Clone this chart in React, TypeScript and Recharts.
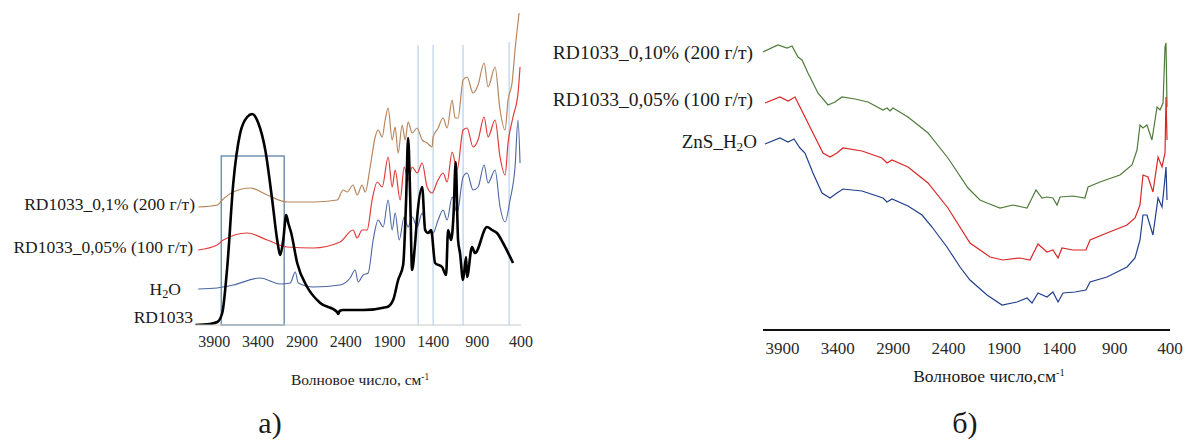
import React from 'react';
import { LineChart, Line, XAxis, YAxis, ReferenceLine, ReferenceArea } from 'recharts';

// wavenumber ticks, same on both panels
const waveTicks = [3900, 3400, 2900, 2400, 1900, 1400, 900, 400];

// panel a) – marker lines and the boxed OH region
const markerLines = [1574, 1403, 1061, 536];
const boxX = [3820, 3102];
const boxTop = 169;

// panel a) spectra, [wavenumber, relative intensity]
const rd1033: number[][] = [
  [4117, 0], [3950, 1], [3866, 3], [3809, 12], [3752, 58], [3683, 142], [3604, 192], [3524, 208],
  [3467, 211], [3398, 202], [3318, 175], [3239, 125], [3182, 85], [3148, 70], [3113, 85], [3079, 110],
  [3056, 102], [3022, 92], [2954, 62], [2840, 38], [2691, 22], [2498, 13], [2486, 11], [2470, 14],
  [2430, 15], [2201, 15], [1928, 18], [1859, 25], [1802, 45], [1745, 60], [1711, 125], [1688, 187],
  [1665, 130], [1643, 55], [1610, 80], [1585, 108], [1528, 138], [1494, 95], [1460, 92], [1426, 95],
  [1380, 62], [1300, 58], [1255, 50], [1232, 95], [1198, 85], [1170, 110], [1145, 163], [1118, 85],
  [1096, 72], [1061, 45], [1027, 68], [1016, 48], [959, 78], [925, 72], [788, 98], [731, 95],
  [674, 92], [605, 82], [491, 62],
];
const rd200a: number[][] = [
  [4083, 118], [3866, 120], [3809, 125], [3683, 133], [3490, 137], [3296, 130], [3068, 123], [2771, 123],
  [2498, 125], [2429, 135], [2384, 133], [2316, 140], [2270, 130], [2213, 140], [2178, 133], [2121, 158],
  [2064, 188], [2030, 195], [1984, 188], [1950, 205], [1916, 217], [1870, 185], [1836, 198], [1802, 172],
  [1756, 200], [1722, 185], [1688, 203], [1642, 192], [1585, 197], [1528, 185], [1471, 182], [1414, 178],
  [1403, 188], [1346, 197], [1289, 207], [1243, 197], [1186, 225], [1152, 207], [1118, 207], [1061, 245],
  [1015, 248], [947, 232], [890, 240], [821, 262], [776, 238], [696, 258], [639, 215], [582, 195],
  [548, 225], [502, 242], [468, 275], [422, 312],
];
const rd100a: number[][] = [
  [4083, 75], [3866, 80], [3797, 85], [3524, 92], [3296, 85], [3068, 78], [2771, 77], [2464, 83],
  [2316, 95], [2270, 87], [2213, 95], [2156, 95], [2099, 125], [2041, 143], [1984, 138], [1916, 168],
  [1870, 138], [1836, 155], [1779, 125], [1733, 158], [1688, 145], [1642, 158], [1585, 152], [1528, 162],
  [1471, 138], [1414, 132], [1357, 143], [1289, 152], [1243, 143], [1186, 173], [1129, 155], [1061, 195],
  [1015, 197], [947, 178], [890, 185], [821, 208], [776, 188], [696, 205], [639, 168], [582, 150],
  [548, 182], [491, 208], [434, 232], [411, 258],
];
const waterA: number[][] = [
  [4083, 36], [3866, 37], [3683, 40], [3376, 47], [3148, 41], [3033, 42], [2976, 53], [2942, 42],
  [2771, 38], [2464, 40], [2350, 47], [2293, 55], [2258, 43], [2201, 50], [2144, 52], [2087, 85],
  [2030, 105], [1973, 98], [1916, 125], [1870, 95], [1836, 112], [1790, 85], [1733, 108], [1688, 98],
  [1642, 108], [1585, 98], [1528, 112], [1471, 92], [1403, 92], [1346, 105], [1289, 115], [1243, 105],
  [1186, 128], [1129, 112], [1061, 148], [1015, 152], [947, 135], [890, 138], [821, 160], [776, 142],
  [696, 155], [639, 118], [582, 103], [525, 125], [468, 158], [434, 205], [411, 162],
];

// panel б) spectra
const rd200b: number[][] = [
  [4075, 278], [3940, 285], [3858, 282], [3813, 284], [3759, 273], [3723, 270], [3669, 257], [3579, 237],
  [3488, 225], [3425, 228], [3362, 233], [3244, 231], [3127, 228], [2992, 220], [2955, 222], [2928, 219],
  [2901, 222], [2766, 213], [2585, 197], [2405, 172], [2224, 142], [2116, 130], [2052, 127], [1935, 122],
  [1818, 125], [1736, 123], [1691, 122], [1646, 132], [1610, 140], [1556, 132], [1511, 133], [1457, 132],
  [1420, 125], [1393, 133], [1276, 134], [1168, 132], [1140, 143], [1032, 148], [852, 155], [743, 165],
  [698, 180], [671, 205], [644, 202], [608, 205], [563, 190], [517, 223], [490, 220], [463, 227],
  [445, 283], [436, 287], [427, 223],
];
const rd100b: number[][] = [
  [4057, 227], [3922, 233], [3849, 229], [3786, 233], [3741, 223], [3696, 213], [3624, 197], [3533, 177],
  [3470, 173], [3407, 177], [3353, 182], [3181, 179], [3001, 172], [2955, 167], [2910, 170], [2766, 163],
  [2585, 147], [2405, 122], [2206, 87], [2025, 73], [1908, 70], [1755, 72], [1664, 70], [1619, 80],
  [1592, 86], [1511, 78], [1457, 80], [1411, 72], [1375, 82], [1276, 80], [1159, 80], [1122, 90],
  [969, 97], [788, 105], [716, 112], [671, 125], [644, 155], [599, 153], [554, 138], [508, 173],
  [472, 163], [445, 177], [436, 233], [427, 190],
];
const znsWater: number[][] = [
  [4057, 186], [3922, 192], [3849, 188], [3795, 191], [3741, 182], [3696, 177], [3624, 157], [3542, 137],
  [3470, 132], [3407, 137], [3353, 141], [3181, 139], [2992, 132], [2955, 128], [2910, 131], [2766, 124],
  [2639, 115], [2549, 103], [2414, 83], [2296, 63], [2206, 50], [2052, 35], [1917, 25], [1782, 28],
  [1691, 32], [1646, 27], [1592, 37], [1511, 33], [1457, 38], [1411, 28], [1366, 37], [1258, 38],
  [1159, 40], [1122, 48], [969, 53], [788, 63], [716, 72], [671, 90], [644, 115], [608, 115],
  [554, 95], [508, 132], [472, 123], [454, 142], [436, 163], [427, 130],
];

const serif = '"Liberation Serif", "DejaVu Serif", serif';
const rows = (pts: number[][]) => pts.map(([wn, v]) => ({ wn, v }));

const Label = ({ right, cy, size, children }: any) => (
  <div style={{
    position: 'absolute', left: 0, width: right, top: cy - size * 0.62, lineHeight: `${size * 1.2}px`,
    fontSize: size, textAlign: 'right', whiteSpace: 'nowrap', fontFamily: serif, color: '#1a1a1a',
  }}>{children}</div>
);

const Center = ({ cx, cy, size, children }: any) => (
  <div style={{
    position: 'absolute', left: cx - 200, width: 400, top: cy - size * 0.62, lineHeight: `${size * 1.2}px`,
    fontSize: size, textAlign: 'center', whiteSpace: 'nowrap', fontFamily: serif, color: '#1a1a1a',
  }}>{children}</div>
);

const sub = { fontSize: '0.7em', verticalAlign: '-0.25em' };
const sup = { fontSize: '0.6em', verticalAlign: '0.55em' };

export default function App() {
  return (
    <div style={{ position: 'absolute', left: 0, top: 0, width: 1189, height: 442, background: '#fff', overflow: 'hidden' }}>
      <div style={{ position: 'absolute', left: 0, top: 0 }}>
        <LineChart width={540} height={442} margin={{ top: 5, right: 19, left: 195, bottom: 87 }}>
          <XAxis type="number" dataKey="wn" domain={[400, 4120]} reversed ticks={waveTicks} allowDataOverflow
            height={30} tickLine={false} tickMargin={5} axisLine={{ stroke: '#c8c8c8' }}
            tick={{ fill: '#2a2a2a', fontSize: 16, fontFamily: serif }} interval={0} />
          <YAxis type="number" domain={[0, 320]} hide allowDataOverflow />
          {markerLines.map((wn) => (
            <ReferenceLine key={wn} segment={[{ x: wn, y: 0 }, { x: wn, y: wn < 700 ? 283 : 280 }]}
              stroke="#a9c8e6" strokeWidth={1} />
          ))}
          <ReferenceArea x1={boxX[0]} x2={boxX[1]} y1={0} y2={boxTop} fill="none" fillOpacity={0}
            stroke="#7393b3" strokeWidth={1.5} />
          <Line data={rows(rd200a)} dataKey="v" type="monotoneX" stroke="#b8875e" strokeWidth={1.2} dot={false} isAnimationActive={false} />
          <Line data={rows(rd100a)} dataKey="v" type="monotoneX" stroke="#e03c3c" strokeWidth={1.2} dot={false} isAnimationActive={false} />
          <Line data={rows(waterA)} dataKey="v" type="monotoneX" stroke="#4b66a3" strokeWidth={1.1} dot={false} isAnimationActive={false} />
          <Line data={rows(rd1033)} dataKey="v" type="monotoneX" stroke="#000" strokeWidth={2.6} dot={false} isAnimationActive={false} />
        </LineChart>
      </div>

      <div style={{ position: 'absolute', left: 540, top: 0 }}>
        <LineChart width={649} height={442} margin={{ top: 30, right: 19, left: 223, bottom: 82 }}>
          <XAxis type="number" dataKey="wn" domain={[400, 4075]} reversed ticks={waveTicks} allowDataOverflow
            height={30} tickLine={false} tickMargin={6} axisLine={{ stroke: '#111', strokeWidth: 2 }}
            tick={{ fill: '#2a2a2a', fontSize: 17, fontFamily: serif }} interval={0} />
          <YAxis type="number" domain={[0, 300]} hide allowDataOverflow />
          <Line data={rows(rd200b)} dataKey="v" type="linear" stroke="#4f7b3b" strokeWidth={1.2} dot={false} isAnimationActive={false} />
          <Line data={rows(rd100b)} dataKey="v" type="linear" stroke="#d92626" strokeWidth={1.2} dot={false} isAnimationActive={false} />
          <Line data={rows(znsWater)} dataKey="v" type="linear" stroke="#213f8c" strokeWidth={1.2} dot={false} isAnimationActive={false} />
        </LineChart>
      </div>

      <Label right={195} cy={205} size={17.5}>RD1033_0,1% (200 г/т)</Label>
      <Label right={193} cy={248} size={17.5}>RD1033_0,05% (100 г/т)</Label>
      <Label right={181} cy={290} size={17.5}>H<span style={sub}>2</span>O</Label>
      <Label right={193} cy={318} size={17.5}>RD1033</Label>

      <Label right={753} cy={53} size={19.5}>RD1033_0,10% (200 г/т)</Label>
      <Label right={753} cy={100} size={19.5}>RD1033_0,05% (100 г/т)</Label>
      <Label right={757} cy={143} size={19}>ZnS_H<span style={sub}>2</span>O</Label>

      <Center cx={360} cy={378} size={15.5}>Волновое число, см<span style={sup}>-1</span></Center>
      <Center cx={989} cy={373} size={17.5}>Волновое число,см<span style={sup}>-1</span></Center>

      <Center cx={270} cy={424} size={30}>а)</Center>
      <Center cx={965} cy={424} size={30}>б)</Center>
    </div>
  );
}
